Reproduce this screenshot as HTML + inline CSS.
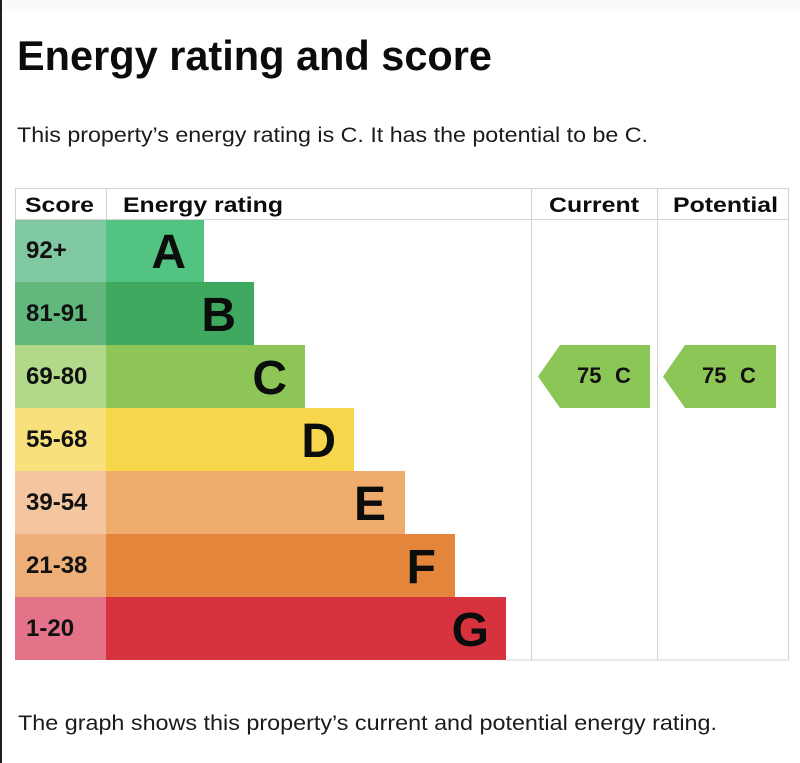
<!DOCTYPE html>
<html>
<head>
<meta charset="utf-8">
<style>
html,body{margin:0;padding:0;background:#fff;}
body{width:800px;height:763px;overflow:hidden;}
svg{display:block;font-family:"Liberation Sans",Arial,sans-serif;}
</style>
</head>
<body>
<svg width="800" height="763" viewBox="0 0 800 763" xmlns="http://www.w3.org/2000/svg">
  <rect x="0" y="0" width="800" height="763" fill="#ffffff"/>
  <rect x="0" y="0" width="800" height="11" fill="#f8fbfa"/>
  <rect x="0" y="0" width="2" height="763" fill="#1f1f1f"/>

  <!-- Title -->
  <text x="17" y="70" font-size="42" font-weight="bold" fill="#0b0c0c" textLength="475" lengthAdjust="spacingAndGlyphs">Energy rating and score</text>
  <text x="17" y="142" font-size="21" fill="#1b1b1b" textLength="631" lengthAdjust="spacingAndGlyphs">This property’s energy rating is C. It has the potential to be C.</text>

  <!-- Score column backgrounds -->
  <rect x="15" y="219" width="91" height="63" fill="#7fc8a2"/>
  <rect x="15" y="282" width="91" height="63" fill="#62b77c"/>
  <rect x="15" y="345" width="91" height="63" fill="#b2d98a"/>
  <rect x="15" y="408" width="91" height="63" fill="#f8e17c"/>
  <rect x="15" y="471" width="91" height="63" fill="#f3c6a0"/>
  <rect x="15" y="534" width="91" height="63" fill="#eeae78"/>
  <rect x="15" y="597" width="91" height="63" fill="#e47289"/>

  <!-- Bars -->
  <rect x="106" y="219" width="98" height="63" fill="#52c381"/>
  <rect x="106" y="282" width="148" height="63" fill="#3fa960"/>
  <rect x="106" y="345" width="199" height="63" fill="#8dc657"/>
  <rect x="106" y="408" width="248" height="63" fill="#f6d74b"/>
  <rect x="106" y="471" width="299" height="63" fill="#efac6d"/>
  <rect x="106" y="534" width="349" height="63" fill="#e3853b"/>
  <rect x="106" y="597" width="400" height="63" fill="#d7333f"/>

  <!-- Table lines -->
  <g stroke="#d2d2d2" stroke-width="1" fill="none">
    <line x1="15" y1="188.5" x2="788" y2="188.5"/>
    <line x1="15" y1="219.5" x2="788" y2="219.5"/>
    <line x1="15.5" y1="188" x2="15.5" y2="219"/>
    <line x1="106.5" y1="188" x2="106.5" y2="219"/>
    <line x1="531.5" y1="188" x2="531.5" y2="660"/>
    <line x1="657.5" y1="188" x2="657.5" y2="660"/>
    <line x1="788.5" y1="188" x2="788.5" y2="660"/>
    <line x1="506" y1="660" x2="788" y2="660"/>
  </g>

  <!-- Header -->
  <g font-size="21" font-weight="bold" fill="#0b0c0c">
    <text x="25" y="212" textLength="69" lengthAdjust="spacingAndGlyphs">Score</text>
    <text x="123" y="212" textLength="160" lengthAdjust="spacingAndGlyphs">Energy rating</text>
    <text x="549" y="212" textLength="90" lengthAdjust="spacingAndGlyphs">Current</text>
    <text x="673" y="212" textLength="105" lengthAdjust="spacingAndGlyphs">Potential</text>
  </g>

  <!-- Score labels -->
  <g font-size="24" font-weight="bold" fill="#111">
    <text x="26" y="258">92+</text>
    <text x="26" y="321">81-91</text>
    <text x="26" y="384">69-80</text>
    <text x="26" y="447">55-68</text>
    <text x="26" y="510">39-54</text>
    <text x="26" y="573">21-38</text>
    <text x="26" y="636">1-20</text>
  </g>

  <!-- Letters -->
  <g font-size="48" font-weight="bold" fill="#0b0c0c" text-anchor="end">
    <text x="186" y="268">A</text>
    <text x="236" y="331">B</text>
    <text x="287" y="394">C</text>
    <text x="336" y="457">D</text>
    <text x="386" y="520">E</text>
    <text x="436" y="583">F</text>
    <text x="489" y="646">G</text>
  </g>

  <!-- Arrows -->
  <polygon points="538,376.5 560,345 650,345 650,408 560,408" fill="#8cc657"/>
  <polygon points="663,376.5 685,345 776,345 776,408 685,408" fill="#8cc657"/>
  <g font-size="22" font-weight="bold" fill="#111">
    <text x="577" y="383">75</text>
    <text x="615" y="383">C</text>
    <text x="702" y="383">75</text>
    <text x="740" y="383">C</text>
  </g>

  <!-- Bottom text -->
  <text x="18" y="730" font-size="21" fill="#1b1b1b" textLength="699" lengthAdjust="spacingAndGlyphs">The graph shows this property’s current and potential energy rating.</text>
</svg>
</body>
</html>
